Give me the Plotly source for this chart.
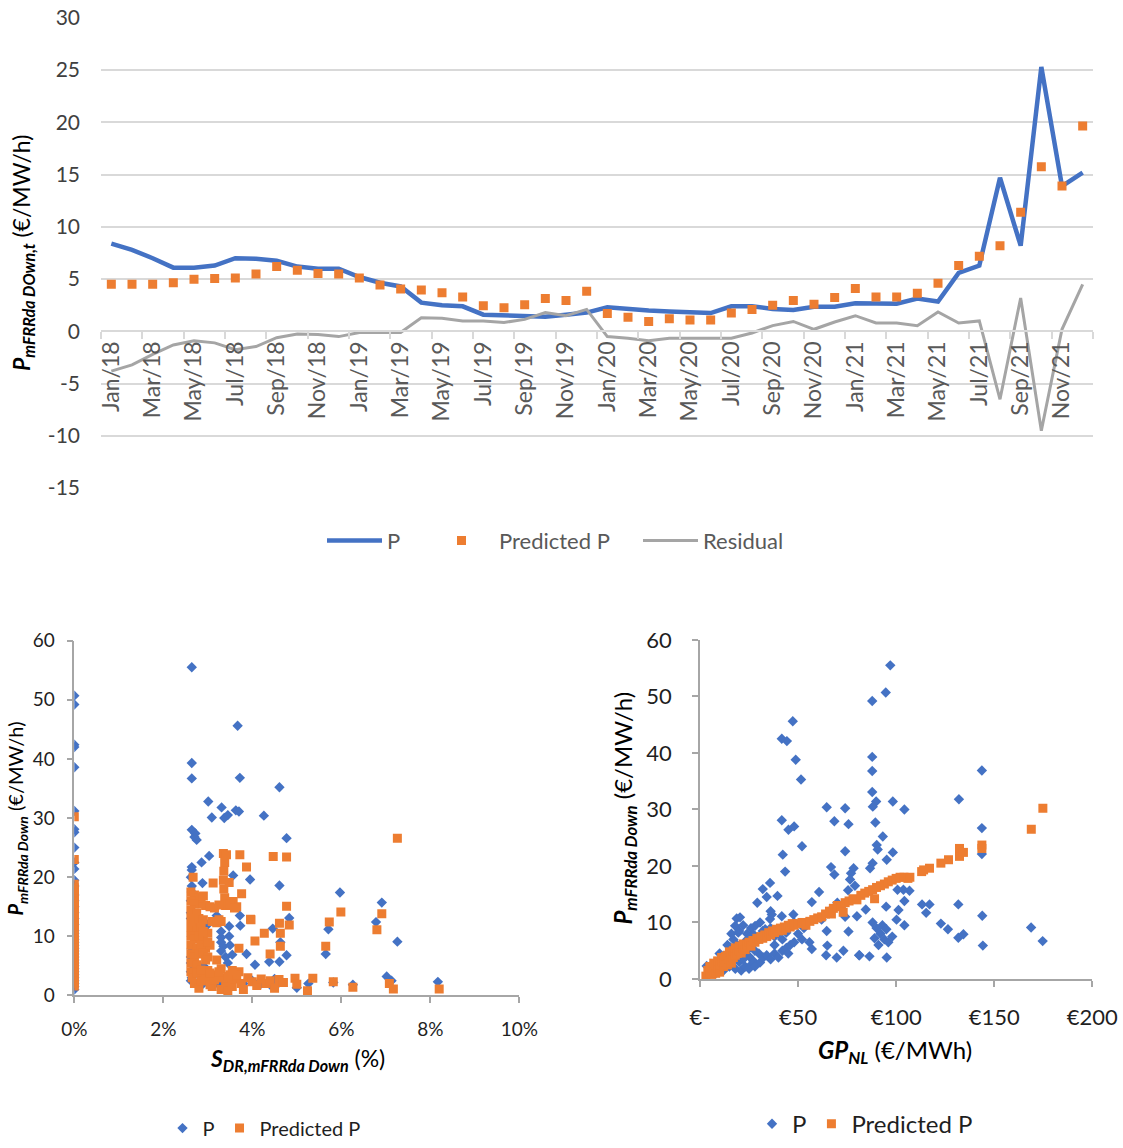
import plotly.graph_objects as go

# ---------------- Top chart data ----------------
MONTHS = ["Jan/18","Feb/18","Mar/18","Apr/18","May/18","Jun/18","Jul/18","Aug/18","Sep/18","Oct/18","Nov/18","Dec/18",
          "Jan/19","Feb/19","Mar/19","Apr/19","May/19","Jun/19","Jul/19","Aug/19","Sep/19","Oct/19","Nov/19","Dec/19",
          "Jan/20","Feb/20","Mar/20","Apr/20","May/20","Jun/20","Jul/20","Aug/20","Sep/20","Oct/20","Nov/20","Dec/20",
          "Jan/21","Feb/21","Mar/21","Apr/21","May/21","Jun/21","Jul/21","Aug/21","Sep/21","Oct/21","Nov/21","Dec/21"]

P_MONTHLY = [8.4, 7.8, 7.0, 6.1, 6.1, 6.3, 7.0, 6.95, 6.75, 6.2, 6.0, 6.0,
             5.2, 4.65, 4.3, 2.75, 2.5, 2.4, 1.6, 1.5, 1.5, 1.4, 1.6, 1.8,
             2.3, 2.1, 2.0, 1.9, 1.8, 1.75, 2.4, 2.4, 2.15, 2.05, 2.35, 2.35,
             2.7, 2.65, 2.65, 3.15, 2.85, 5.6, 6.3, 14.7, 8.2, 25.3, 13.9, 15.2]

PRED_MONTHLY = [4.5, 4.5, 4.5, 4.65, 5.0, 5.05, 5.1, 5.5, 6.2, 5.85, 5.55, 5.5,
                5.1, 4.45, 4.05, 3.95, 3.7, 3.3, 2.45, 2.25, 2.55, 3.15, 2.95, 3.85,
                1.7, 1.35, 0.95, 1.2, 1.1, 1.1, 1.75, 2.1, 2.5, 2.95, 2.6, 3.25,
                4.1, 3.3, 3.3, 3.65, 4.6, 6.3, 7.2, 8.2, 11.4, 15.75, 13.9, 19.65]

RESID_MONTHLY = [-3.8, -3.2, -2.2, -1.3, -0.9, -1.1, -1.75, -1.45, -0.6, -0.25, -0.3, -0.5,
                 -0.1, -0.1, -0.1, 1.3, 1.25, 1.0, 1.0, 0.85, 1.15, 1.8, 1.5, 2.1,
                 -0.5, -0.65, -0.9, -0.65, -0.65, -0.65, -0.65, -0.15, 0.55, 0.95, 0.2, 0.9,
                 1.5, 0.8, 0.8, 0.55, 1.85, 0.8, 1.0, -6.5, 3.2, -9.5, 0.2, 4.5]

TOP_YTICKS = [-15, -10, -5, 0, 5, 10, 15, 20, 25, 30]
TOP_YTICKTEXT = ["-15", "-10", "-5", "0", "5", "10", "15", "20", "25", "30"]

# ---------------- Bottom-left scatter data (S_DR in %, P in EUR/MW/h) ----------------
SDR_P_X = [0]*40 + [
    2.64, 2.64, 2.64, 3.67, 3.72, 3.01, 3.09, 3.31, 3.37, 3.45, 3.63, 3.70, 2.64, 2.72, 2.75, 2.70,
    2.86, 3.03, 2.64, 2.64, 3.57, 3.95, 2.88, 2.64, 2.64, 2.62, 2.62, 2.62, 2.64, 2.64, 2.62, 2.62,
    2.62, 2.64, 2.70, 2.90, 3.10, 3.30, 3.30, 3.35, 3.30, 3.40, 3.45, 3.30, 3.50, 3.48, 3.72, 3.87,
    4.06, 3.55, 4.61, 4.26, 4.77, 4.61, 5.97, 6.91, 6.78, 4.83, 5.71, 4.46, 7.26, 4.63, 4.77, 4.38,
    4.61, 5.65, 7.02, 7.13, 8.17, 6.26, 5.82, 5.26, 5.00, 4.00, 4.20, 4.40, 4.60, 3.50, 3.80, 4.50,
    3.30, 2.90, 3.00, 2.80, 3.20, 3.73, 3.48, 2.62, 2.62, 2.70, 3.05, 3.25]
SDR_P_Y = [50.7, 49.2, 42.4, 42.0, 38.6, 31.2, 28.1, 27.6, 25.0, 22.5, 21.4, 19.5, 18.5, 17.0, 16.0,
           15.0, 14.0, 13.0, 12.0, 11.0, 10.5, 10.0, 9.5, 9.0, 8.5, 8.0, 7.5, 7.0, 6.5, 6.0, 5.5, 5.0,
           4.5, 4.0, 3.5, 3.0, 2.5, 2.0, 1.5, 1.0] + [
    55.5, 39.3, 36.7, 45.6, 36.8, 32.8, 30.1, 31.8, 30.0, 30.5, 31.3, 31.1, 28.0, 27.4, 26.3, 26.8,
    22.5, 23.6, 21.7, 21.2, 20.3, 19.6, 19.0, 18.5, 17.5, 16.0, 14.0, 13.0, 10.0, 8.0, 6.5, 5.5,
    4.0, 3.0, 2.2, 2.0, 2.1, 9.8, 9.0, 8.3, 7.5, 6.5, 5.5, 10.8, 8.5, 11.7, 13.5, 7.0,
    5.2, 6.9, 35.2, 30.4, 26.6, 18.6, 17.4, 15.7, 12.4, 13.1, 11.2, 11.3, 9.1, 9.0, 6.8, 5.7,
    5.7, 7.0, 3.2, 2.5, 2.3, 1.8, 2.2, 2.0, 1.3, 2.5, 2.0, 1.8, 2.2, 2.5, 2.0, 2.8,
    2.0, 5.0, 12.0, 10.5, 13.5, 11.8, 10.0, 20.0, 2.5, 4.8, 3.5, 1.8]

SDR_PRED_X = [0]*39 + [
    3.35, 3.42, 3.38, 3.36, 3.35, 3.36, 3.38, 3.40, 3.72, 3.87, 3.76, 3.57, 3.65, 3.96, 4.06, 3.70,
    2.67, 3.12, 3.48, 2.85, 2.95, 3.05, 3.15, 3.25, 3.50, 3.60,
    2.62, 2.70, 2.80, 2.90, 2.62, 2.70, 2.62, 2.75, 2.62, 2.70, 2.80, 2.90, 2.62, 2.75, 2.85, 2.62,
    2.70, 2.80, 2.90, 3.00, 2.62, 2.75, 2.85, 2.95, 2.62, 2.70, 2.80, 2.90, 2.62, 2.75, 3.00, 3.05,
    3.10, 3.20, 3.30, 3.25,
    2.62, 2.65, 2.70, 2.80, 2.90, 3.00, 3.00, 3.10, 3.20, 3.30, 3.30, 3.40, 3.45, 3.50, 3.55, 3.60,
    3.70, 3.75, 3.80, 3.90, 4.00, 4.10, 4.20, 4.30, 4.40, 4.50, 4.60, 4.70, 2.75, 2.85, 3.15, 3.35, 3.65,
    7.26, 4.47, 4.77, 4.77, 5.99, 6.91, 5.73, 3.97, 4.61, 4.83, 6.80, 4.27, 4.63, 4.63, 4.40, 5.65,
    4.96, 5.36, 5.82, 6.26, 7.08, 7.17, 8.20, 5.24, 5.00,
    2.95, 3.05, 3.15, 2.85, 2.95, 3.05, 3.25, 3.45, 3.55, 2.90, 3.00, 3.20]
SDR_PRED_Y = [30.2, 23.0, 18.8, 18.2, 17.5, 17.0, 16.5, 16.0, 15.5, 15.0, 14.5, 14.0, 13.5, 13.0, 12.5,
              12.0, 11.5, 10.5, 10.0, 9.5, 9.0, 8.5, 8.0, 7.5, 7.0, 6.5, 6.0, 5.5, 5.0, 4.5, 4.0,
              3.5, 3.0, 2.5, 2.0, 1.6, 11.8, 15.8, 17.8] + [
    24.0, 23.8, 22.5, 21.0, 19.5, 18.0, 16.5, 15.2, 23.8, 21.7, 17.2, 15.9, 15.0, 12.9, 9.2, 8.0,
    20.0, 19.0, 19.1, 15.5, 15.2, 15.0, 14.8, 15.3, 15.5, 14.8,
    17.5, 17.0, 16.5, 16.8, 16.0, 15.5, 14.5, 14.0, 13.0, 12.5, 13.0, 12.8, 11.5, 11.0, 11.5, 10.0,
    9.5, 10.0, 9.8, 10.5, 8.5, 8.0, 8.5, 8.0, 7.0, 6.5, 7.0, 7.2, 5.5, 5.2, 6.5, 8.5,
    12.5, 12.3, 12.5, 12.8,
    4.0, 3.0, 2.0, 1.2, 3.5, 2.5, 4.2, 1.5, 3.0, 1.0, 4.5, 2.2, 0.7, 3.5, 1.5, 2.8,
    4.0, 2.0, 1.0, 3.0, 2.3, 1.7, 2.8, 2.0, 2.5, 1.2, 2.7, 2.2, 3.8, 2.5, 3.5, 3.0, 3.5,
    26.6, 23.5, 23.4, 15.1, 14.1, 13.8, 12.4, 12.8, 12.2, 11.9, 11.1, 10.5, 10.5, 8.3, 7.0, 8.3,
    2.9, 2.9, 2.3, 1.4, 2.0, 1.1, 1.1, 0.8, 1.9,
    3.2, 1.8, 2.6, 4.3, 6.0, 3.8, 4.0, 3.2, 4.2, 10.8, 9.0, 6.0]

SDR_XTICKS = [0, 2, 4, 6, 8, 10]
SDR_XTICKTEXT = ["0%", "2%", "4%", "6%", "8%", "10%"]
P_YTICKS = [0, 10, 20, 30, 40, 50, 60]

# ---------------- Bottom-right scatter data (GP_NL in EUR/MWh, P in EUR/MW/h) ----------------
GP_P_X = [97, 94.7, 87.8, 47.3, 41.7, 44.3, 48.8, 51.5, 87.8, 87.8, 143.7, 132, 87.8, 89.8, 88.1, 98.3,
          104.2, 41.7, 45.1, 48, 89.4, 64.6, 74, 68.5, 75.7, 143.7, 52, 93.2, 90.1, 90.6, 143.7, 98.3,
          95.2, 74, 42.2, 43.4, 66.8, 68.5, 77, 78.3, 86.7, 88, 60.7, 57, 35.7, 32, 29.2, 36, 39.5,
          18.7, 17.9, 19.5, 75.5, 79, 80, 64.6, 64.9, 64.3, 69.7, 73.1, 75.7, 81.1, 57, 55.8, 76.5,
          103.7, 106.8, 100.7, 104.2, 113.2, 117, 115.3, 131.7, 143.9, 94.9, 101.2, 84.5, 100.2, 104.2,
          122.8, 126.4, 131.7, 134.3, 144.2, 168.8, 174.7, 88, 90, 92, 94, 96, 98, 91, 93, 95, 89,
          81.3, 86.4, 95.2, 70, 72, 74, 66, 62,
          3.4, 5, 6, 8.5, 10, 12, 12, 14, 15.3, 17, 16, 18, 20, 18, 20.4, 22.1, 23.8, 21, 23, 26, 24,
          26, 27.2, 28.1, 30.6, 33.2, 35.7, 36.6, 34, 27.2, 30.6, 32.3, 34, 36, 38, 40, 42, 44, 46, 48,
          41.7, 47.6, 50, 52, 53, 30, 28, 38, 40, 25, 22, 45, 20, 22, 16, 14, 10, 8, 6, 25, 28, 15,
          24, 19, 26, 30, 32, 36, 38, 42, 44, 46, 48]
GP_P_Y = [55.5, 50.7, 49.2, 45.6, 42.5, 42.1, 38.8, 35.3, 39.3, 36.8, 36.9, 31.8, 33.1, 31.4, 30.5, 31.4,
          30, 28.1, 26.4, 27, 27.7, 30.4, 30.2, 27.9, 27.4, 26.7, 23.5, 25.2, 23.7, 22.9, 22.1, 22.4,
          21.1, 22.6, 22, 19, 19.8, 18.5, 18.7, 19.6, 19.6, 20.5, 15.4, 13.6, 17, 15.9, 13.5, 12, 14.7,
          10.7, 9.4, 8.2, 15.7, 16.5, 11.1, 8.5, 5.9, 4.2, 3.8, 5, 8.4, 4.2, 5.3, 6.5, 17.6,
          15.8, 15.6, 15.8, 13.8, 13.2, 13.2, 11.7, 13.2, 11.2, 12.8, 12.2, 12.3, 10.5, 9.5,
          9.8, 8.8, 7.3, 7.9, 5.9, 9.1, 6.7, 10, 9, 8, 7, 6.5, 7.5, 6, 9.5, 8.8, 7.2,
          4.2, 4.0, 3.8, 13.5, 12.5, 11, 12, 10.5,
          2.3, 1.5, 2.5, 2.9, 2, 1.5, 4, 3, 5.6, 7, 5, 4, 3, 1.8, 10.9, 6.2, 5, 1.5, 2.2, 2.5, 8,
          9, 7.9, 9.4, 10, 8.8, 10.6, 11.4, 14.5, 3.2, 2.9, 3.8, 4.2, 3.5, 4.5, 3.8, 5, 5.5, 6, 6.5,
          11.1, 11.4, 8, 7, 9, 4.5, 5, 6, 8, 4, 3.5, 4.5, 8.5, 9.5, 8, 6, 4.5, 1, 1.5, 1.8, 2.2, 2.2,
          7, 6, 6, 7, 8.5, 9, 7.5, 7, 8.2, 9.2, 10]

GP_PRED_X = [3, 4, 5, 5, 6, 6, 7, 7, 8, 8, 9, 9, 10, 10, 11, 11, 12, 12, 13, 13, 14, 14, 15, 15, 16, 16,
             17, 17, 18, 18, 19, 20, 20, 21, 22, 22, 23, 24, 25, 26, 27, 28, 29, 30, 31, 32, 33, 34,
             35, 36, 37, 38, 39, 40, 41, 42, 43, 44, 45, 46, 47, 48, 50, 52, 54, 56, 58, 60, 62, 64,
             66, 67, 68, 70, 72, 73, 74, 76, 78, 80, 82, 84, 86, 88, 89, 90, 92, 94, 96, 98, 100, 102,
             104, 106, 107, 113, 114, 117, 122.8, 126.7, 132.3, 132.3, 134.3, 143.7, 143.7, 168.9, 174.8]
GP_PRED_Y = [0.5, 1.5, 1, 2.2, 0.8, 2, 1.5, 2.8, 1, 2.5, 2, 3.2, 1.2, 2.5, 3, 3.8, 2.2, 3.5, 3, 4, 2.5,
             4.2, 3.5, 4.8, 2.8, 4.5, 3.8, 5, 4.2, 5.5, 4.5, 5.0, 5.8, 4.6, 5.4, 6.2, 5.2, 6, 6.5, 5.8,
             6.8, 6.5, 7.2, 7, 7.5, 7.2, 7.8, 7.5, 8.2, 7.8, 8.5, 8.2, 8.8, 8.5, 9.0, 8.6, 9.2, 9,
             9.5, 9.2, 9.8, 9.5, 9.8, 10, 9.5, 10.2, 10.5, 10.8, 11, 11.5, 12, 11.5, 12.5, 13, 12.8,
             11.8, 13.5, 13.8, 14.2, 14, 14.8, 15.2, 15.5, 15.8, 14.2, 16.2, 16.5, 16.8, 17.2, 17.5,
             17.8, 18, 18, 17.8, 18, 19, 19.3, 19.6, 20.5, 21.1, 21.7, 23.1, 22.4, 23.1, 23.7, 26.5, 30.2]

GP_XTICKS = [0, 50, 100, 150, 200]
GP_XTICKTEXT = ["€-", "€50", "€100", "€150", "€200"]

# ---------------- Styling ----------------
BLUE = "#4472C4"
ORANGE = "#ED7D31"
GRAY = "#A5A5A5"
FONT = "Lato"
W, H = 1123, 1148

def px_x(p):
    return p / W

def px_y(p):
    return 1 - p / H

fig = go.Figure()

# Top chart traces (each with its own legend box to mimic the wide Excel spacing)
fig.add_trace(go.Scatter(x=MONTHS, y=P_MONTHLY, mode="lines", name="P",
                         line=dict(color=BLUE, width=4.5), xaxis="x", yaxis="y", legend="legend"))
fig.add_trace(go.Scatter(x=MONTHS, y=PRED_MONTHLY, mode="markers", name="Predicted P",
                         marker=dict(symbol="square", size=9, color=ORANGE), xaxis="x", yaxis="y",
                         legend="legend4"))
fig.add_trace(go.Scatter(x=MONTHS, y=RESID_MONTHLY, mode="lines", name="Residual",
                         line=dict(color=GRAY, width=3), xaxis="x", yaxis="y", legend="legend5"))

# Bottom-left
fig.add_trace(go.Scatter(x=SDR_P_X, y=SDR_P_Y, mode="markers", name="P",
                         marker=dict(symbol="diamond", size=8, color=BLUE), xaxis="x2", yaxis="y2",
                         legend="legend2"))
fig.add_trace(go.Scatter(x=SDR_PRED_X, y=SDR_PRED_Y, mode="markers", name="Predicted P",
                         marker=dict(symbol="square", size=9, color=ORANGE), xaxis="x2", yaxis="y2",
                         legend="legend2"))

# Bottom-right
fig.add_trace(go.Scatter(x=GP_P_X, y=GP_P_Y, mode="markers", name="P",
                         marker=dict(symbol="diamond", size=8, color=BLUE), xaxis="x3", yaxis="y3",
                         legend="legend3"))
fig.add_trace(go.Scatter(x=GP_PRED_X, y=GP_PRED_Y, mode="markers", name="Predicted P",
                         marker=dict(symbol="square", size=9, color=ORANGE), xaxis="x3", yaxis="y3",
                         legend="legend3"))

# Domains
top_xd = [px_x(101), px_x(1093)]
top_yd = [px_y(492), px_y(18)]
zero_pos = top_yd[0] + (0 - (-15)) / 45 * (top_yd[1] - top_yd[0])

bl_xd = [px_x(74.3), px_x(519.3)]
bl_yd = [px_y(1003.3), px_y(645.7)]
br_xd = [px_x(700), px_x(1092.3)]
br_yd = [px_y(986.7), px_y(645)]

AX_GRAY = "#A6A6A6"
TICK_DARK = "#1F1F1F"

def top_legend(xpx, iw):
    return dict(orientation="h", x=px_x(xpx), y=px_y(545), xanchor="left", yanchor="middle",
                font=dict(size=22, color="#595959", family=FONT), itemwidth=iw,
                bgcolor="rgba(0,0,0,0)")

fig.update_layout(
    width=W, height=H,
    margin=dict(l=0, r=0, t=0, b=0),
    paper_bgcolor="white", plot_bgcolor="white",
    font=dict(family=FONT, color=TICK_DARK),
    xaxis=dict(domain=top_xd, anchor="free", position=zero_pos, type="category",
               tickmode="linear", tick0=0, dtick=2, tickson="boundaries",
               tickangle=-90, ticks="outside", ticklen=7, tickcolor="#D9D9D9", tickwidth=1.5,
               showline=True, linecolor="#D9D9D9", linewidth=1.5, showgrid=False,
               tickfont=dict(size=23, color="#595959", family=FONT), ticklabelstandoff=0,
               automargin=False, range=[-0.5, 47.5]),
    yaxis=dict(domain=top_yd, anchor="x", range=[-15, 30], tickvals=TOP_YTICKS, ticktext=TOP_YTICKTEXT,
               showgrid=True, gridcolor="#D9D9D9", gridwidth=1.5, zeroline=False,
               showline=False, ticks="", tickfont=dict(size=21, color="#404040", family=FONT),
               ticklabelstandoff=20, automargin=False),
    xaxis2=dict(domain=bl_xd, anchor="y2", range=[0, 10], tickvals=SDR_XTICKS, ticktext=SDR_XTICKTEXT,
                showline=True, linecolor=AX_GRAY, linewidth=1.5, ticks="outside", ticklen=6,
                tickcolor=AX_GRAY, tickwidth=1.5, showgrid=False, zeroline=False,
                tickfont=dict(size=19, color=TICK_DARK, family=FONT), ticklabelstandoff=10,
                automargin=False),
    yaxis2=dict(domain=bl_yd, anchor="x2", range=[0, 60], tickvals=P_YTICKS,
                showline=True, linecolor=AX_GRAY, linewidth=1.5, ticks="outside", ticklen=6,
                tickcolor=AX_GRAY, tickwidth=1.5, showgrid=False, zeroline=False,
                tickfont=dict(size=19, color=TICK_DARK, family=FONT), ticklabelstandoff=8,
                automargin=False),
    xaxis3=dict(domain=br_xd, anchor="y3", range=[0, 200], tickvals=GP_XTICKS, ticktext=GP_XTICKTEXT,
                showline=True, linecolor=AX_GRAY, linewidth=1.5, ticks="outside", ticklen=6,
                tickcolor=AX_GRAY, tickwidth=1.5, showgrid=False, zeroline=False,
                tickfont=dict(size=22, color=TICK_DARK, family=FONT), ticklabelstandoff=12,
                automargin=False),
    yaxis3=dict(domain=br_yd, anchor="x3", range=[0, 60], tickvals=P_YTICKS,
                showline=True, linecolor=AX_GRAY, linewidth=1.5, ticks="outside", ticklen=6,
                tickcolor=AX_GRAY, tickwidth=1.5, showgrid=False, zeroline=False,
                tickfont=dict(size=22, color=TICK_DARK, family=FONT), ticklabelstandoff=16,
                automargin=False),
    legend=top_legend(322, 55),
    legend4=top_legend(424, 65),
    legend5=top_legend(638, 55),
    legend2=dict(orientation="h", x=px_x(264), y=px_y(1137), xanchor="center", yanchor="middle",
                 font=dict(size=20, color=TICK_DARK, family=FONT), itemwidth=30,
                 bgcolor="rgba(0,0,0,0)"),
    legend3=dict(orientation="h", x=px_x(865), y=px_y(1133), xanchor="center", yanchor="middle",
                 font=dict(size=24, color=TICK_DARK, family=FONT), itemwidth=30,
                 bgcolor="rgba(0,0,0,0)"),
    showlegend=True,
)

fig.add_annotation(xref="paper", yref="paper", x=px_x(22), y=px_y(255), textangle=-90,
                   showarrow=False, xanchor="center", yanchor="middle",
                   text="<b><i>P</i></b><sub><b><i>mFRRda DOwn,t</i></b></sub> (€/MW/h)",
                   font=dict(size=23, color="#000000", family=FONT))
fig.add_annotation(xref="paper", yref="paper", x=px_x(17), y=px_y(825), textangle=-90,
                   showarrow=False, xanchor="center", yanchor="middle",
                   text="<b><i>P</i></b><sub><b><i>mFRRda Down</i></b></sub> (€/MW/h)",
                   font=dict(size=20, color="#000000", family=FONT))
fig.add_annotation(xref="paper", yref="paper", x=px_x(297), y=px_y(1068),
                   showarrow=False, xanchor="center", yanchor="middle",
                   text="<b><i>S</i></b><sub><b><i>DR,mFRRda Down</i></b></sub> (%)",
                   font=dict(size=23, color="#000000", family=FONT))
fig.add_annotation(xref="paper", yref="paper", x=px_x(625), y=px_y(815), textangle=-90,
                   showarrow=False, xanchor="center", yanchor="middle",
                   text="<b><i>P</i></b><sub><b><i>mFRRda Down</i></b></sub> (€/MW/h)",
                   font=dict(size=24, color="#000000", family=FONT))
fig.add_annotation(xref="paper", yref="paper", x=px_x(895), y=px_y(1060),
                   showarrow=False, xanchor="center", yanchor="middle",
                   text="<b><i>GP</i></b><sub><b><i>NL</i></b></sub> (€/MWh)",
                   font=dict(size=24, color="#000000", family=FONT))

fig.write_html("out.html")
